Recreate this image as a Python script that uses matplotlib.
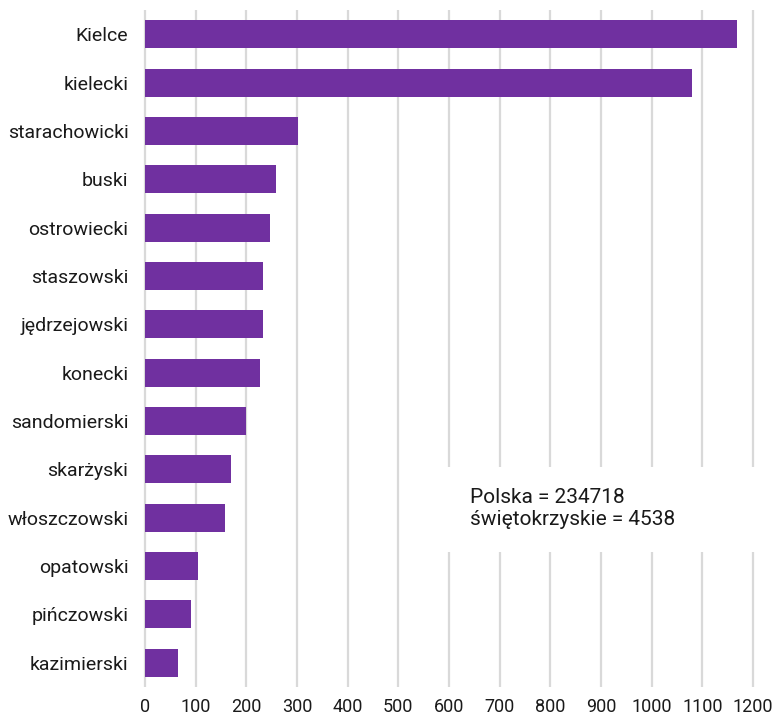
import matplotlib
matplotlib.use("Agg")
import matplotlib.pyplot as plt
from matplotlib.patches import Rectangle


# Values
powiaty = [
    "Kielce", "kielecki", "starachowicki", "buski", "ostrowiecki",
    "staszowski", "jędrzejowski", "konecki", "sandomierski", "skarżyski",
    "włoszczowski", "opatowski", "pińczowski", "kazimierski",
]
wartosci = [1168, 1080, 302, 259, 246, 233, 233, 226, 199, 170, 157, 105, 90, 66]
x_ticks = list(range(0, 1201, 100))
note_text = "Polska = 234718\nświętokrzyskie = 4538"

BAR_COLOR = "#7030A0"
GRID_COLOR = "#d9d9d9"

plt.rcParams["font.family"] = ["Roboto", "DejaVu Sans"]

fig = plt.figure(figsize=(7.74, 7.17), dpi=100)
ax = fig.add_axes([143 / 774, 30 / 717, 613 / 774, 677 / 717])

positions = list(range(len(powiaty)))
ax.barh(positions, wartosci, height=0.58, color=BAR_COLOR, zorder=2)

ax.set_ylim(len(powiaty) - 0.5, -0.5)
ax.set_xlim(-4, 1206)
ax.set_yticks(positions)
ax.set_yticklabels(powiaty)
ax.set_xticks(x_ticks)
ax.set_xticklabels([str(t) for t in x_ticks])

ax.tick_params(axis="y", length=0, pad=10.5, labelsize=14, labelcolor="#1a1a1a")
ax.tick_params(axis="x", length=0, pad=8, labelsize=13, labelcolor="#1a1a1a")

ax.set_axisbelow(True)
ax.grid(axis="x", color=GRID_COLOR, linewidth=1.6)
ax.grid(axis="y", visible=False)
for spine in ax.spines.values():
    spine.set_visible(False)

# White box behind the note hides the gridlines
ax.add_patch(Rectangle((0.485, 0.199), 0.56, 0.126, transform=ax.transAxes,
                       facecolor="white", edgecolor="none", zorder=1, clip_on=False))
ax.text(0.533, 0.263, note_text, transform=ax.transAxes, ha="left", va="center",
        fontsize=15, linespacing=1.2, color="#1a1a1a", zorder=3)

fig.savefig("out.png", dpi=100)
